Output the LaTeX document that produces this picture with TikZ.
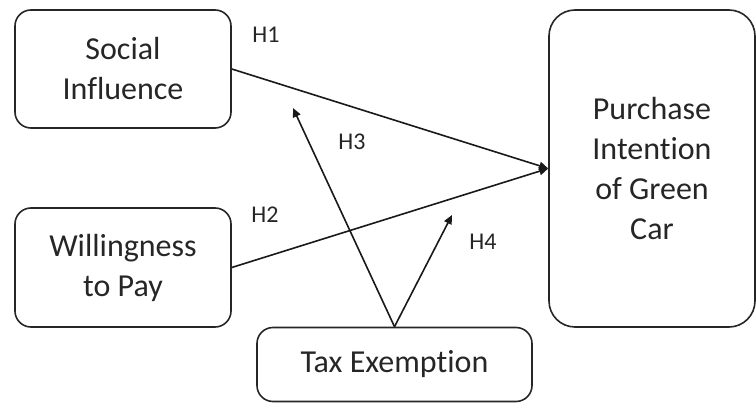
\documentclass[tikz,border=0pt]{standalone}
\usepackage{fontspec}
\setmainfont{Carlito}[Ligatures=NoCommon]
\usetikzlibrary{arrows.meta}
\begin{document}
\begin{tikzpicture}[x=1pt,y=-1pt,
  box/.style={draw=black!85,line width=1.6pt,rounded corners=16pt,align=center,
    font=\fontsize{32}{40}\selectfont,text=black!85,inner sep=0pt},
  link/.style={line width=1.6pt,draw=black!90,-{Triangle[length=9pt,width=8pt]}},
  hlab/.style={font=\fontsize{24}{28}\selectfont,text=black!85,inner sep=0pt}]
\useasboundingbox (0,0) rectangle (756,403);
\node[box,minimum width=216pt,minimum height=118pt] (si) at (123,69) {Social\\Influence};
\node[box,minimum width=216pt,minimum height=119pt] (wp) at (123,267.5) {Willingness\\to Pay};
\node[box,minimum width=275pt,minimum height=74pt] (te) at (394.5,364.5) {Tax Exemption};
\node[box,rounded corners=26pt,minimum width=206pt,minimum height=317pt] (pi) at (652,168.5) {Purchase\\Intention\\of Green\\Car};
\coordinate (h3end) at (293,108);
\coordinate (h4end) at (452,215);
\draw[link] (si.east) -- (pi.west);
\draw[link] (wp.east) -- (pi.west);
\draw[link] (te.north) -- (h3end);
\draw[link] (te.north) -- (h4end);
\node[hlab] (l1) at (266,35) {H1};
\node[hlab] (l2) at (265,215) {H2};
\node[hlab] (l3) at (352,142) {H3};
\node[hlab] (l4) at (483,242) {H4};
\end{tikzpicture}
\end{document}
